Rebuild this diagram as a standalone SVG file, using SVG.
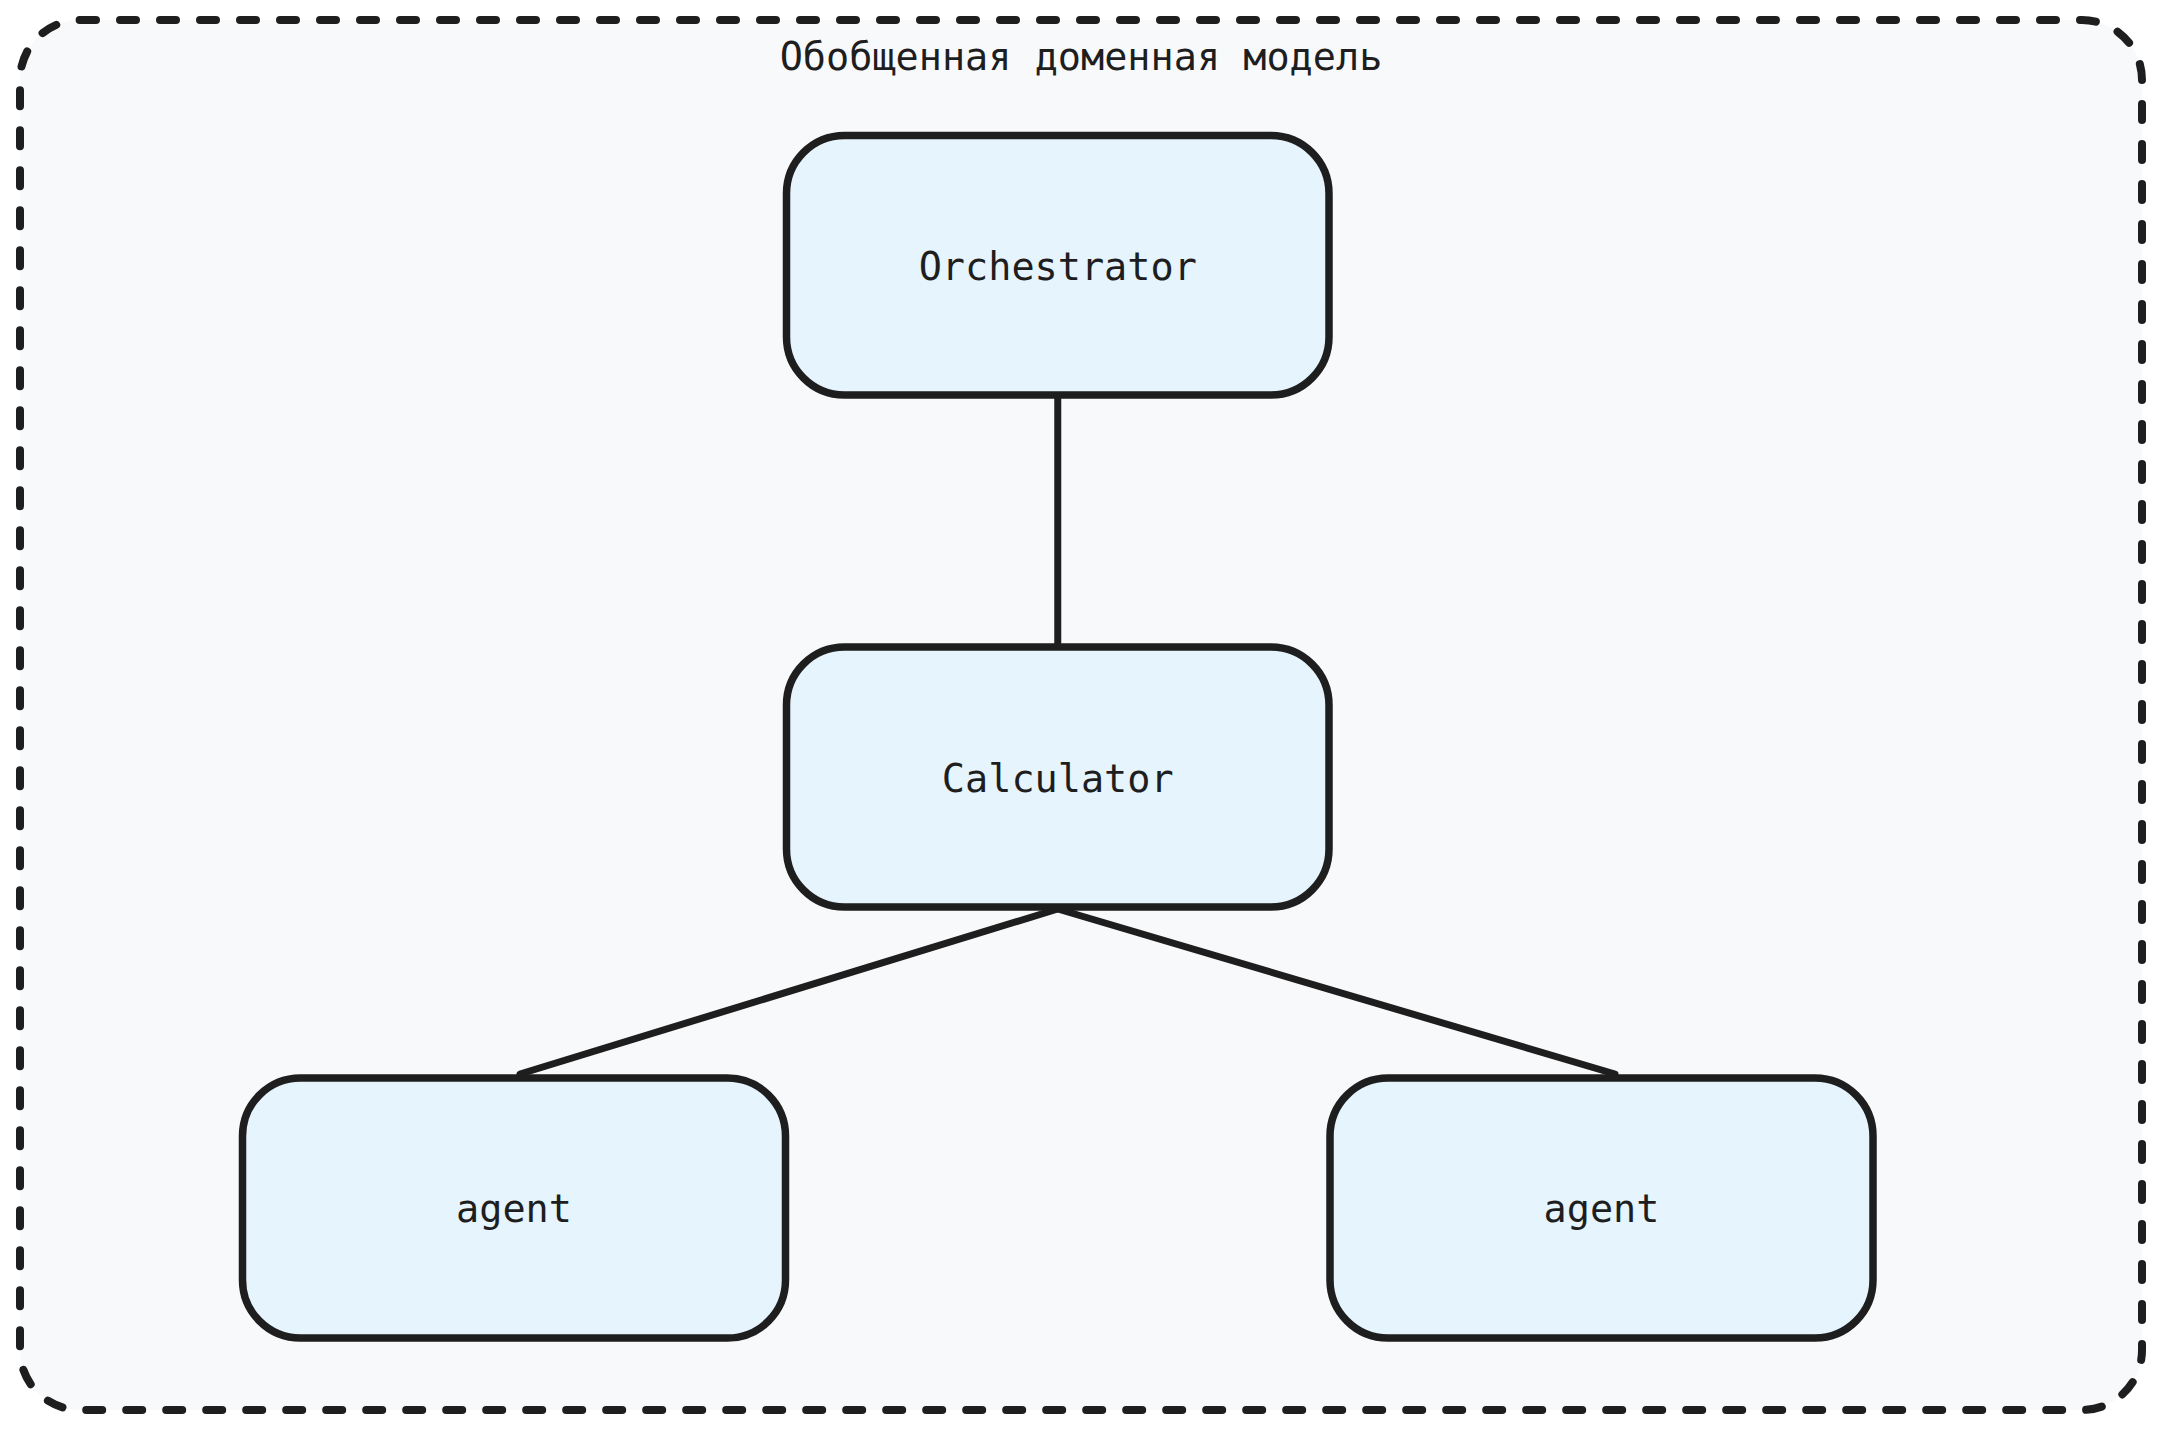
<svg xmlns="http://www.w3.org/2000/svg" width="2161" height="1430" viewBox="0 0 2161 1430">
<style>
.frame{fill:#f8f9fb;stroke:#1e1e1e;stroke-width:8;stroke-dasharray:16 24;stroke-linecap:round}
.box{fill:#e6f4fd;stroke:#1e1e1e;stroke-width:7.5}
.lbl{font-family:"DejaVu Sans Mono","Liberation Mono",monospace;font-size:38.5px;fill:#1e1e1e;text-anchor:middle}
.edge{stroke:#1e1e1e;stroke-width:7;stroke-linecap:round;fill:none}
</style>
<rect width="2161" height="1430" fill="#ffffff"/>
<g id="group-domain">
<rect class="frame" x="20" y="20" width="2122" height="1390" rx="60" ry="60"/>
<text class="lbl" x="1081" y="70">Обобщенная доменная модель</text>
</g>
<g id="connectors">
<line class="edge" x1="1057.75" y1="395" x2="1057.75" y2="647"/>
<line class="edge" x1="1057.75" y1="909" x2="520" y2="1074"/>
<line class="edge" x1="1057.75" y1="909" x2="1615" y2="1074"/>
</g>
<g id="node-orchestrator">
<rect class="box" x="786.5" y="135.5" width="542.5" height="259.5" rx="58" ry="58"/>
<text class="lbl" x="1057.75" y="280">Orchestrator</text>
</g>
<g id="node-calculator">
<rect class="box" x="786.5" y="647" width="542.5" height="260" rx="58" ry="58"/>
<text class="lbl" x="1057.75" y="792">Calculator</text>
</g>
<g id="node-agent-left">
<rect class="box" x="242.5" y="1078" width="543" height="260" rx="58" ry="58"/>
<text class="lbl" x="514" y="1222">agent</text>
</g>
<g id="node-agent-right">
<rect class="box" x="1330" y="1078" width="543" height="260" rx="58" ry="58"/>
<text class="lbl" x="1601.5" y="1222">agent</text>
</g>
</svg>
